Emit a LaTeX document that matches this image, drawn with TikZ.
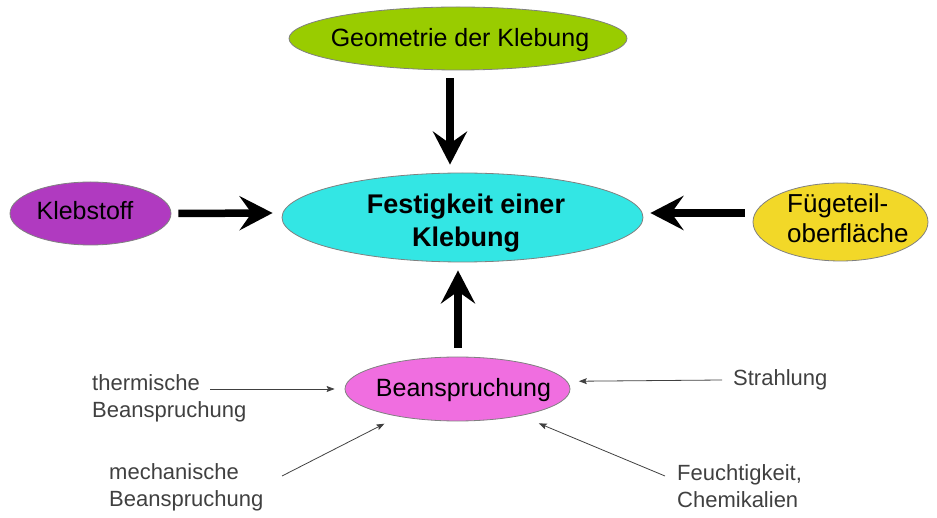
\documentclass[tikz,border=0pt]{standalone}
\usepackage{fontspec}
\setmainfont{Liberation Sans}
\usetikzlibrary{shapes.geometric,arrows.meta}
\definecolor{geoC}{RGB}{153,204,0}
\definecolor{festC}{RGB}{51,230,228}
\definecolor{klebC}{RGB}{176,58,192}
\definecolor{fueC}{RGB}{242,216,40}
\definecolor{beanC}{RGB}{240,110,224}
\definecolor{lblC}{RGB}{64,64,64}
\definecolor{rimC}{RGB}{128,128,128}
\tikzset{
  blob/.style={ellipse, draw=rimC, line width=0.8pt, inner sep=0pt},
  bigtxt/.style={inner sep=0pt, font=\fontsize{25}{30}\selectfont},
  smalltxt/.style={inner sep=0pt, text=lblC, align=left, font=\fontsize{22}{27}\selectfont},
  bigarrow/.style={line width=7.5pt, -{Stealth[length=33pt,width=34pt,inset=12pt]}},
  thinarrow/.style={line width=0.8pt, draw=lblC, -{Stealth[length=8pt,width=6pt,inset=1.5pt]}}
}
\begin{document}
\begin{tikzpicture}[x=1pt,y=-1pt]
\useasboundingbox (0,0) rectangle (937,518);
% ellipses
\node[blob, fill=geoC, minimum width=338pt, minimum height=63pt] (geo) at (458,38.5) {};
\node[blob, fill=festC, minimum width=361pt, minimum height=89pt] (fest) at (462.5,217.5) {};
\node[blob, fill=klebC, minimum width=161pt, minimum height=63pt] (kleb) at (90.5,213.5) {};
\node[blob, fill=fueC, minimum width=175pt, minimum height=78pt] (fue) at (840.5,222) {};
\node[blob, fill=beanC, minimum width=225pt, minimum height=64pt] (bean) at (457.5,389) {};
% texts
\node[bigtxt, anchor=base] (geoT) at (460,46.7) {Geometrie der Klebung};
\node[bigtxt, anchor=base] (klebT) at (85,220) {Klebstoff};
\node[bigtxt, anchor=base] (beanT) at (463.5,396.7) {Beanspruchung};
\node[inner sep=0pt, align=center, font=\fontsize{27}{33}\selectfont\bfseries] (festT) at (466,223.5) {Festigkeit einer\\Klebung};
\node[inner sep=0pt, align=left, anchor=west, font=\fontsize{26}{30}\selectfont] (fueT) at (787,218.5) {Fügeteil-\\oberfläche};
\node[smalltxt, anchor=west] (therm) at (92,398.6) {thermische\\Beanspruchung};
\node[smalltxt, anchor=west] (mech) at (109,487.3) {mechanische\\Beanspruchung};
\node[smalltxt, anchor=base west] (strahl) at (733,385) {Strahlung};
\node[smalltxt, anchor=west] (feucht) at (677,485.7) {Feuchtigkeit,\\Chemikalien};
% big arrows
\draw[bigarrow] ([xshift=-8pt,yshift=-8pt]geo.south) -- ([xshift=-12.5pt,yshift=8pt]fest.north);
\draw[bigarrow] ([xshift=7pt]kleb.east) -- ([xshift=-9pt,yshift=4.5pt]fest.west);
\draw[bigarrow] ([xshift=-8pt,yshift=9pt]fue.west) -- ([xshift=7pt,yshift=4.5pt]fest.east);
\draw[bigarrow] ([xshift=0.5pt,yshift=9pt]bean.north) -- ([xshift=-4.5pt,yshift=-8pt]fest.south);
% thin arrows
\coordinate (thS) at (210,389);
\coordinate (meS) at (282,476);
\coordinate (stS) at (722,380);
\coordinate (feS) at (665,476);
\draw[thinarrow, shorten >=10pt] (thS) -- (bean.180);
\draw[thinarrow, shorten >=15.6pt] (meS) -- (bean.205.1);
\draw[thinarrow, shorten >=11.7pt] (stS) -- (bean.4.27);
\draw[thinarrow, shorten >=19.6pt] (feS) -- (bean.337.4);
\end{tikzpicture}
\end{document}
